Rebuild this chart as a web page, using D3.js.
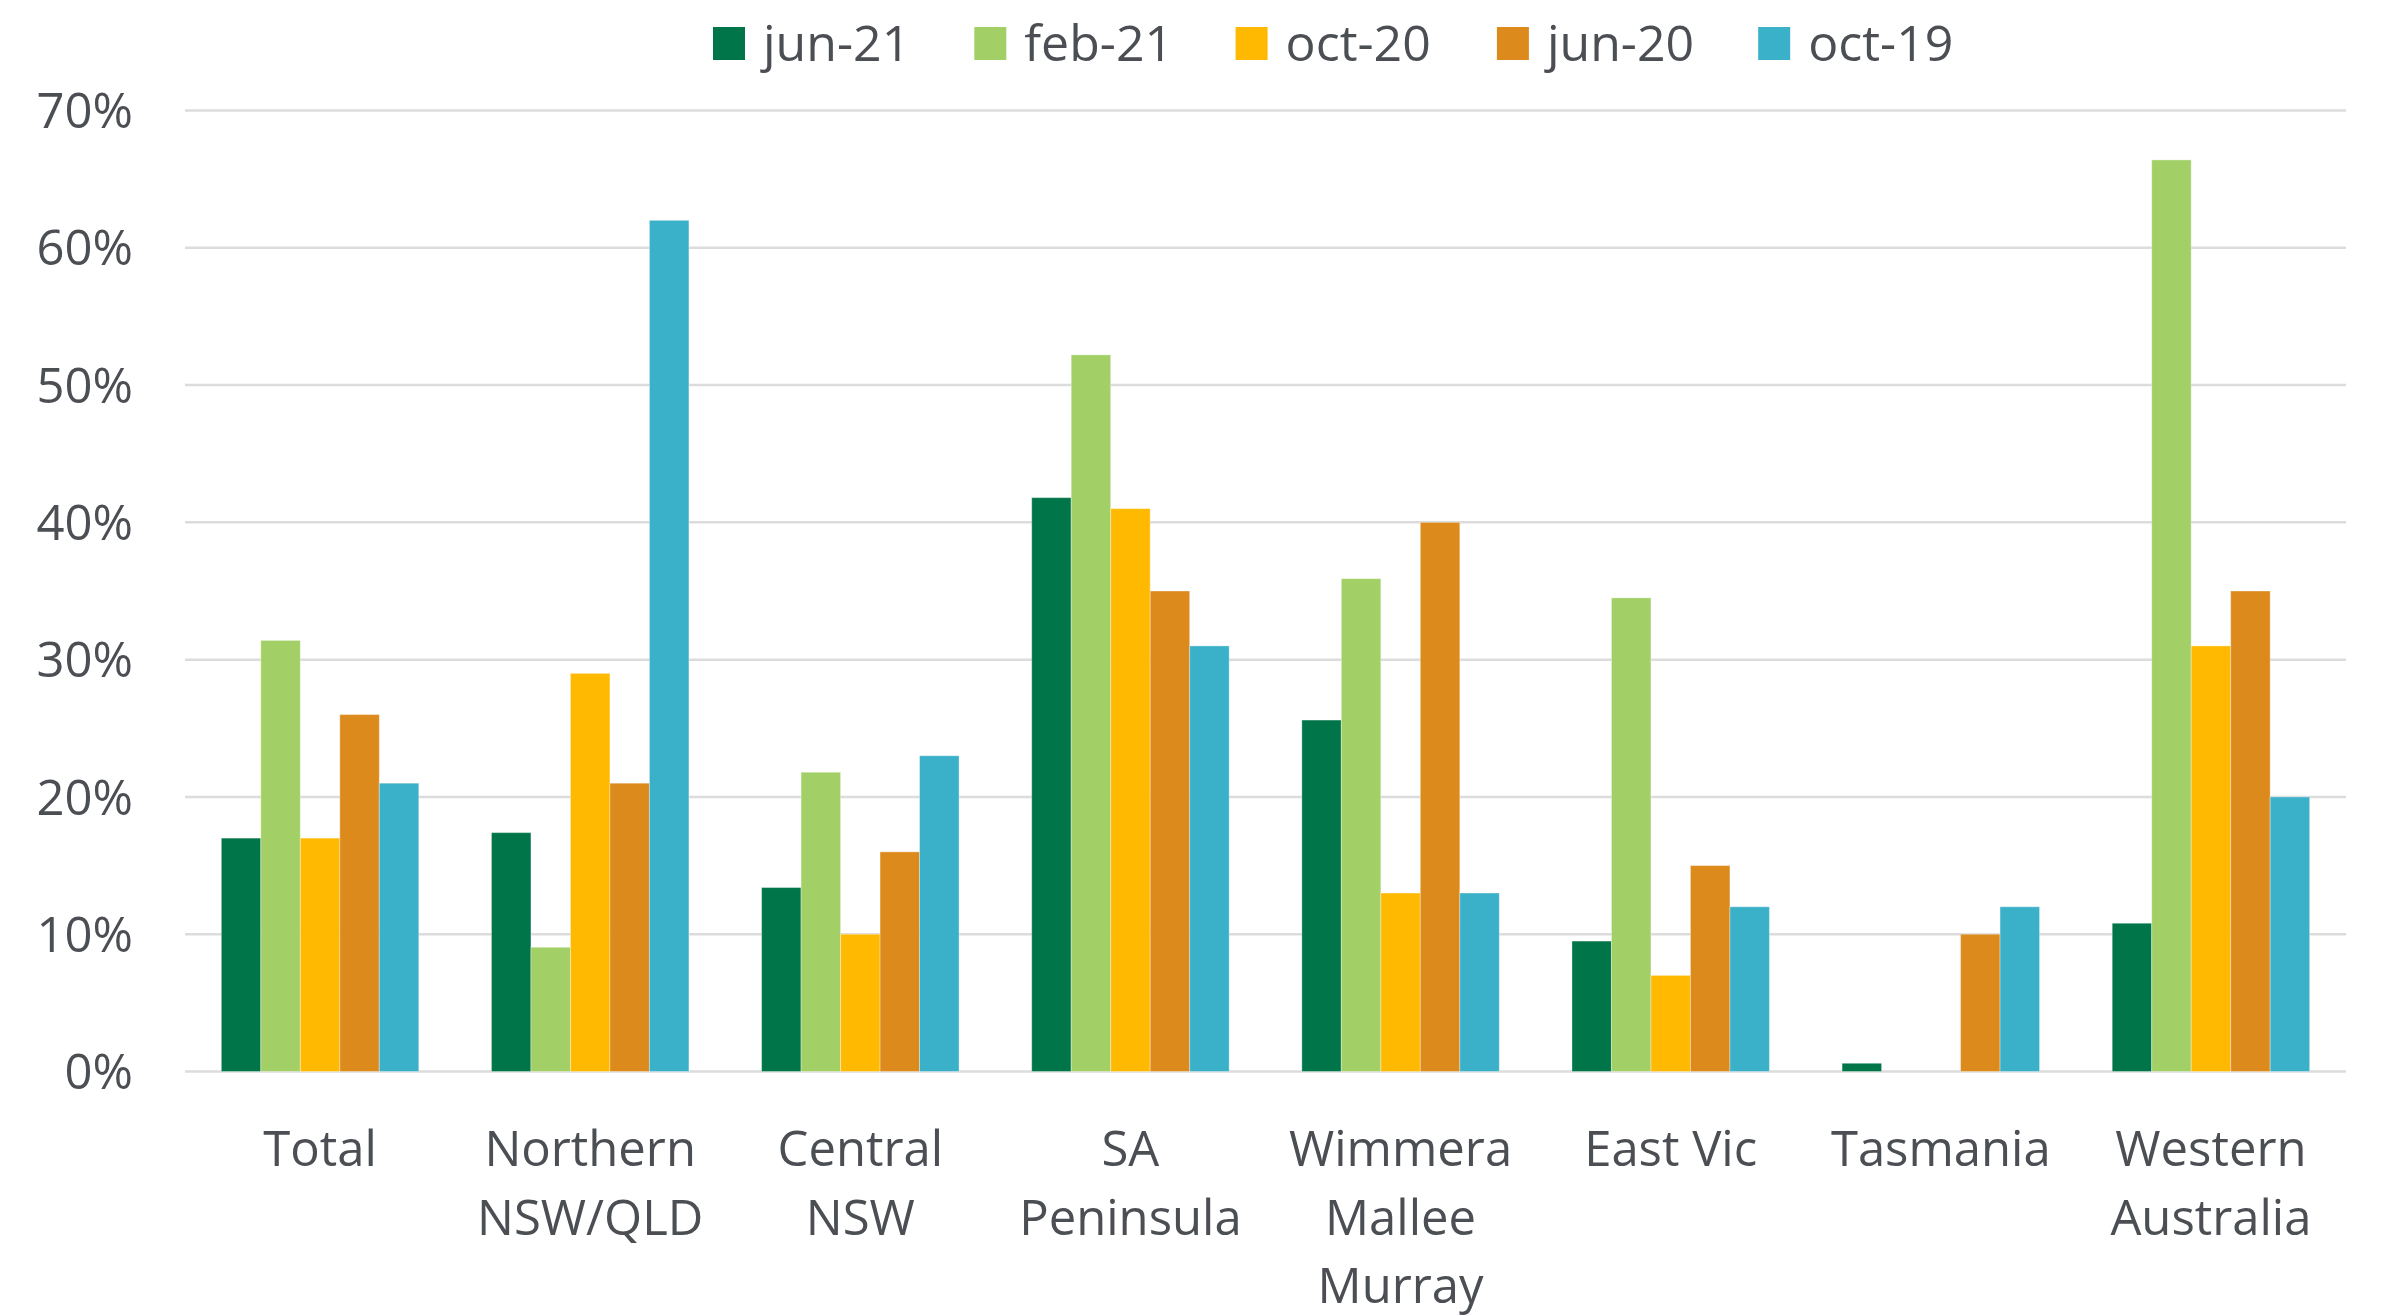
<!DOCTYPE html>
<html><head><meta charset="utf-8">
<script src="https://cdn.jsdelivr.net/npm/d3@7"></script>
<style>html,body{margin:0;padding:0;background:#fff;overflow:hidden}</style>
</head><body>
<svg id="c" width="2381" height="1316"></svg>
<script>
const categories = [["Total"],["Northern","NSW/QLD"],["Central","NSW"],["SA","Peninsula"],["Wimmera","Mallee","Murray"],["East Vic"],["Tasmania"],["Western","Australia"]];
const seriesNames = ["jun-21","feb-21","oct-20","jun-20","oct-19"];
const seriesColors = ["#00754A","#A2D066","#FFB900","#DC8A1C","#3BB0C9"];
const jun21 = [17, 17.4, 13.4, 41.8, 25.6, 9.5, 0.6, 10.8];
const feb21 = [31.4, 9.05, 21.8, 52.2, 35.9, 34.5, 0, 66.4];
const oct20 = [17, 29, 10, 41, 13, 7, 0, 31];
const jun20 = [26, 21, 16, 35, 40, 15, 10, 35];
const oct19 = [21, 62, 23, 31, 13, 12, 12, 20];
const yTicks = [0,10,20,30,40,50,60,70];

const series = [jun21, feb21, oct20, jun20, oct19];
const svg = d3.select("#c");
const textColor = "#4B4E53";
const font = "'Open Sans', 'DejaVu Sans', sans-serif";

const x0 = d3.scaleBand().domain(d3.range(categories.length)).range([185, 2346]).paddingInner(0.269).paddingOuter(0.1345);
const x1 = d3.scaleBand().domain(d3.range(series.length)).range([0, x0.bandwidth()]).padding(0);
const y = d3.scaleLinear().domain([0, 70]).range([1071.5, 110.5]);

// gridlines
svg.append("g").selectAll("line").data(yTicks).join("line")
  .attr("x1", 185).attr("x2", 2346)
  .attr("y1", d => y(d)).attr("y2", d => y(d))
  .attr("stroke", "#DCDCDC").attr("stroke-width", 2.5);

// y axis labels
const yAxis = d3.axisLeft(y).tickValues(yTicks).tickFormat(d => d + "%").tickSize(0).tickPadding(0);
const ya = svg.append("g").attr("transform", "translate(133,0)").call(yAxis);
ya.select(".domain").remove();
ya.selectAll("text").attr("font-family", font).attr("font-size", 49).attr("fill", textColor).attr("dy", "0.35em");

// bars
const groups = svg.append("g").selectAll("g").data(categories.map((c, i) => i)).join("g")
  .attr("transform", i => `translate(${x0(i)},0)`);
groups.selectAll("rect").data(i => series.map((s, k) => ({k, v: s[i]})).filter(d => d.v > 0)).join("rect")
  .attr("x", d => x1(d.k)).attr("width", x1.bandwidth())
  .attr("y", d => y(d.v)).attr("height", d => y(0) - y(d.v))
  .attr("fill", d => seriesColors[d.k])
  .attr("stroke", "#ffffff").attr("stroke-opacity", 0.35).attr("stroke-width", 1);

// x labels
const xl = svg.append("g").selectAll("text").data(categories.map((c, i) => ({c, i}))).join("text")
  .attr("x", d => x0(d.i) + x0.bandwidth() / 2).attr("y", 1166)
  .attr("text-anchor", "middle").attr("font-family", font).attr("font-size", 49).attr("fill", textColor);
xl.selectAll("tspan").data(d => d.c.map((t, j) => ({t, j, x: x0(d.i) + x0.bandwidth() / 2}))).join("tspan")
  .attr("x", d => d.x).attr("dy", d => d.j === 0 ? 0 : 68.5).text(d => d.t);

// legend
const leg = svg.append("g").selectAll("g").data(seriesNames.map((n, k) => ({n, k}))).join("g")
  .attr("transform", d => `translate(${713 + d.k * 261.3},0)`);
leg.append("rect").attr("x", 0).attr("y", 27).attr("width", 32).attr("height", 33).attr("fill", d => seriesColors[d.k]);
leg.append("text").attr("x", 50).attr("y", 61).attr("font-family", font).attr("font-size", 50).attr("fill", textColor).text(d => d.n);
</script>
</body></html>
